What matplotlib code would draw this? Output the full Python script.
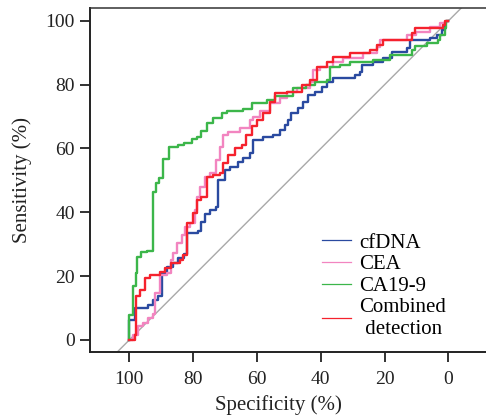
import matplotlib
matplotlib.use("Agg")
import matplotlib.pyplot as plt
from matplotlib.lines import Line2D

# ---- data (specificity %, sensitivity %), step curves ----
cfdna_spec = [100, 100, 98.3, 94.1, 92.5, 91.0, 89.9, 88.3, 86.3, 84.7, 82.9, 81.9, 78.4, 77.7,
              76.3, 74.8, 72.7, 72.2, 70.1, 68.5, 65.9, 64.3, 62.2, 61.2, 58.1, 54.9, 52.8, 51.3,
              50.2, 49.2, 47.1, 45.5, 43.9, 41.8, 39.7, 38.2, 36.1, 34.0, 29.3, 27.8, 27.2, 23.6,
              20.4, 17.8, 13.1, 12.1, 5.8, 3.7, 2.1, 1.1, 0.6, 0]
cfdna_sens = [0, 6.3, 9.9, 11.0, 12.5, 13.6, 20.9, 23.0, 24.0, 25.6, 26.9, 33.4, 34.0, 36.8,
              39.5, 40.8, 41.8, 50.2, 53.3, 54.3, 55.9, 57.0, 58.5, 62.7, 63.7, 64.3, 65.8, 67.4,
              69.0, 71.0, 72.6, 74.7, 76.8, 77.8, 79.4, 81.0, 82.1, 82.2, 83.0, 84.0, 86.2, 87.2,
              88.3, 90.4, 91.4, 94.0, 94.6, 95.6, 97.2, 99.3, 100, 100]

cea_spec = [100, 99.3, 98.8, 97.2, 95.7, 94.1, 92.7, 92.0, 90.4, 88.3, 87.1, 86.3, 85.2, 83.6,
            82.6, 81.0, 79.5, 78.7, 77.9, 76.3, 74.8, 72.7, 71.6, 70.6, 69.0, 65.4, 62.2, 61.2,
            59.1, 56.0, 52.8, 50.7, 47.6, 43.4, 42.4, 40.3, 36.1, 33.0, 26.7, 22.5, 21.5, 13.1,
            10.0, 5.8, 2.7, 1.1, 0.5, 0]
cea_sens = [0, 0, 1.6, 4.2, 5.2, 6.8, 8.2, 14.6, 20.4, 20.9, 25.1, 27.2, 30.3, 32.9,
            35.5, 36.6, 40.8, 44.9, 48.0, 51.2, 52.3, 56.4, 60.6, 64.3, 65.3, 66.4, 69.0, 70.0,
            71.6, 74.2, 75.8, 77.8, 78.9, 81.0, 84.6, 85.7, 87.2, 88.3, 89.9, 91.9, 94.0, 95.6,
            96.6, 98.2, 99.3, 99.8, 100, 100]

ca199_spec = [100, 100, 98.9, 98.0, 97.6, 96.2, 94.6, 92.7, 91.8, 90.7, 89.6, 87.5, 84.7, 82.9,
              80.5, 78.7, 77.7, 75.8, 73.7, 71.1, 69.5, 64.3, 61.7, 57.0, 54.4, 48.7, 44.5, 41.8,
              38.2, 37.1, 34.0, 30.9, 23.6, 18.3, 11.5, 10.5, 6.8, 3.2, 2.7, 1.1, 0.6, 0]
ca199_sens = [0, 7.8, 17.0, 21.0, 26.0, 27.6, 28.0, 46.5, 49.3, 50.7, 56.6, 60.4, 61.1, 61.7,
              62.9, 63.7, 65.5, 67.9, 69.5, 71.0, 71.6, 72.3, 74.4, 75.2, 76.3, 78.9, 79.9, 80.7,
              81.5, 85.7, 86.2, 87.2, 87.8, 89.3, 90.9, 92.2, 93.0, 94.0, 95.6, 97.7, 100, 100]

comb_spec = [100, 98.3, 98.0, 96.7, 95.1, 93.6, 90.4, 88.9, 86.8, 84.2, 83.1, 81.9, 80.0, 78.9,
             77.4, 75.8, 73.7, 71.6, 70.6, 69.0, 66.9, 64.8, 63.3, 61.7, 60.1, 58.1, 56.0, 54.4,
             50.7, 46.0, 43.4, 41.3, 38.2, 36.1, 30.9, 24.6, 22.5, 20.4, 11.5, 10.5, 1.6, 1.1, 0]
comb_sens = [0, 1.6, 13.6, 15.7, 19.3, 20.4, 21.4, 22.5, 24.0, 25.1, 26.6, 36.6, 39.7, 43.9,
             44.9, 51.2, 51.7, 52.2, 55.4, 58.0, 60.1, 61.1, 64.3, 66.9, 69.0, 71.0, 74.7, 77.3,
             77.8, 79.9, 81.5, 85.7, 87.2, 88.8, 89.9, 90.9, 92.5, 94.0, 96.1, 97.7, 98.7, 100, 100]

labels = ["cfDNA", "CEA", "CA19-9", "Combined\n detection"]
colors = ["#2a4aa0", "#f285c0", "#3cb64a", "#f5222d"]
xticks = [100, 80, 60, 40, 20, 0]
yticks = [0, 20, 40, 60, 80, 100]

plt.rcParams["font.family"] = ["Liberation Serif", "DejaVu Serif"]

fig = plt.figure(figsize=(4.86, 4.17), dpi=100)
ax = fig.add_axes([89.5 / 486, 1 - 352 / 417, 1 - 89.5 / 486, (352 - 7.5) / 417])

ax.axline((100, 0), (0, 100), color="#a8a8a8", lw=1.0, zorder=1)

series = [(cfdna_spec, cfdna_sens), (cea_spec, cea_sens), (ca199_spec, ca199_sens), (comb_spec, comb_sens)]
for (xs, ys), c in zip(series, colors):
    ax.plot(xs, ys, drawstyle="steps-post", color=c, lw=1.7, zorder=2)

ax.set_xlim(112.5, -11.8)
ax.set_ylim(-3.8, 104.2)
ax.set_xticks(xticks)
ax.set_yticks(yticks)
ax.tick_params(axis="both", direction="out", length=7.5, width=1.3, labelsize=14, colors="#222222")
ax.tick_params(axis="x", pad=6)
ax.tick_params(axis="y", pad=3)
for s in ["left", "bottom"]:
    ax.spines[s].set_linewidth(1.4)
    ax.spines[s].set_color("#222222")
ax.spines["top"].set_linewidth(1.1)
ax.spines["top"].set_color("#333333")
ax.spines["right"].set_visible(False)

ax.set_xlabel("Specificity (%)", fontsize=15, color="#222222")
ax.set_ylabel("Sensitivity (%)", fontsize=15, color="#222222")
ax.xaxis.set_label_coords((278 - 89.5) / (486 - 89.5), -(405 - 352) / (352 - 7.5), transform=ax.transAxes)
ax.yaxis.set_label_coords(-(89.5 - 22) / (486 - 89.5), 0.5, transform=ax.transAxes)
ax.xaxis.label.set_va("center")
ax.yaxis.label.set_va("center")

handles = [Line2D([], [], color=c, lw=0.9) for c in colors]
fig.legend(handles, labels, loc="upper left", bbox_to_anchor=(322 / 486, 1 - 233 / 417),
           frameon=False, fontsize=15, handlelength=1.4, handletextpad=0.4,
           labelspacing=0.1, borderpad=0, borderaxespad=0)

fig.savefig("out.png", dpi=100)
